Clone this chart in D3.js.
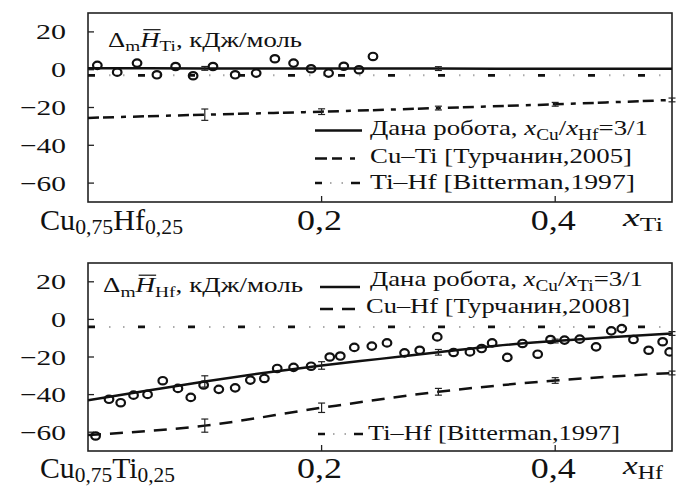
<!DOCTYPE html>
<html>
<head>
<meta charset="utf-8">
<script src="https://cdn.jsdelivr.net/npm/d3@7"></script>
<style>
body { margin: 0; background: #fff; }
text { font-family: "Liberation Serif", Tinos, "Times New Roman", Times, serif; fill: #111; }
</style>
</head>
<body>
<script>
var width = 683, height = 489;

// axis ticks
var xTicks = [0.2, 0.4];
var xTickLabels = ["0,2", "0,4"];
var yTicks = [20, 0, -20, -40, -60];
var yTickLabels = ["20", "0", "\u221220", "\u221240", "\u221260"];

// top panel - Ti
var tiExpX = [0.008, 0.025, 0.042, 0.059, 0.075, 0.090, 0.107, 0.126, 0.144, 0.160, 0.176, 0.191, 0.206, 0.219, 0.232, 0.244];
var tiExpY = [2.3, -1.3, 3.5, -2.7, 1.7, -3.2, 1.7, -2.7, -1.8, 5.8, 3.5, 0.5, -1.8, 1.8, 0, 7];
var tiFitX = [0, 0.1, 0.2, 0.3, 0.4, 0.5];
var tiFitY = [0.8, 0.7, 0.6, 0.6, 0.5, 0.5];
var tiFitErr = [0, 1, 0, 1, 0, 0];
var cuTiX = [0, 0.1, 0.2, 0.3, 0.4, 0.5];
var cuTiY = [-25.5, -23.8, -22.2, -20.3, -18.3, -16];
var cuTiErr = [0, 3, 1.5, 1, 1, 1];
var tiHfTiX = [0, 0.5];
var tiHfTiY = [-3, -3];

// bottom panel - Hf
var hfExpX = [0.0065, 0.018, 0.028, 0.039, 0.051, 0.064, 0.077, 0.088, 0.099, 0.112, 0.126, 0.139, 0.151, 0.162, 0.176, 0.191,
  0.207, 0.216, 0.228, 0.243, 0.256, 0.271, 0.284, 0.299, 0.313, 0.327, 0.337, 0.346, 0.359, 0.372, 0.385, 0.396, 0.408,
  0.421, 0.435, 0.448, 0.457, 0.467, 0.480, 0.492, 0.498];
var hfExpY = [-62, -42.5, -44.3, -40.3, -39.9, -32.6, -36.7, -41.5, -34.9, -37.2, -36.4, -32.3, -31.4, -26.1, -25.5, -24.9,
  -20.0, -19.5, -14.9, -14.2, -12.5, -17.8, -16.4, -9.3, -17.6, -17.3, -15.5, -12.5, -20.2, -12.8, -18.5, -10.7, -11.0,
  -10.5, -14.6, -6.1, -4.9, -10.7, -16.4, -11.9, -17.3];
var hfFitX = [0, 0.05, 0.1, 0.15, 0.2, 0.25, 0.3, 0.35, 0.4, 0.45, 0.5];
var hfFitY = [-43, -38, -33, -28.5, -24.5, -21, -17.5, -14, -11.5, -9.3, -7.5];
var hfFitErr = [0, 0, 3, 0, 2, 0, 1.5, 0, 1, 0, 1];
var cuHfX = [0, 0.1, 0.2, 0.3, 0.4, 0.5];
var cuHfY = [-61.5, -56.5, -47, -38.5, -32.5, -28.5];
var cuHfErr = [0, 3.5, 2.5, 1.8, 1.5, 1];
var tiHfHfX = [0, 0.5];
var tiHfHfY = [-4, -4];

var svg = d3.select("body").append("svg")
    .attr("width", width)
    .attr("height", height);

var x = d3.scaleLinear().domain([0, 0.5]).range([88, 672]);
var yTop = d3.scaleLinear().domain([-70, 30]).range([202, 13]);
var yBot = d3.scaleLinear().domain([-70, 30]).range([451, 263]);

// text with italic / subscript parts
function richText(g, parts, tx, ty, size, len, anchor, subShift) {
    var t = g.append("text").attr("x", tx).attr("y", ty).attr("font-size", size + "px");
    if (anchor) t.attr("text-anchor", anchor);
    var shift = 0;
    parts.forEach(function (p) {
        var s = t.append("tspan").text(p[0]);
        var sub = p[1].indexOf("s") >= 0;
        var ns = sub ? size * (subShift || 0.22) : 0;
        s.attr("dy", ns - shift);
        shift = ns;
        if (sub) s.attr("font-size", (size * 0.72) + "px");
        if (p[1].indexOf("i") >= 0) s.attr("font-style", "italic");
    });
    if (len) t.attr("textLength", len).attr("lengthAdjust", "spacingAndGlyphs");
    return t;
}

function panel(y, id, baseY, labelParts, labelLen, varParts) {
    var g = svg.append("g");
    g.append("clipPath").attr("id", id).append("rect")
        .attr("x", x(0)).attr("y", y.range()[1])
        .attr("width", x(0.5) - x(0)).attr("height", y.range()[0] - y.range()[1]);

    g.append("rect")
        .attr("x", x(0)).attr("y", y.range()[1])
        .attr("width", x(0.5) - x(0)).attr("height", y.range()[0] - y.range()[1])
        .style("fill", "none").style("stroke", "#222").style("stroke-width", 1.6);

    //y ticks
    g.selectAll(".yt").data(yTicks).enter().append("line")
        .attr("x1", x(0)).attr("x2", x(0) + 6)
        .attr("y1", function (d) { return y(d); }).attr("y2", function (d) { return y(d); })
        .style("stroke", "#222").style("stroke-width", 1.3);
    var lens = [30, 15, 46, 46, 46];
    yTicks.forEach(function (d, i) {
        g.append("text").attr("x", 66).attr("y", y(d) + 7.5)
            .attr("text-anchor", "end").attr("font-size", "22px")
            .attr("textLength", lens[i]).attr("lengthAdjust", "spacingAndGlyphs")
            .text(yTickLabels[i]);
    });

    //x ticks
    g.selectAll(".xt").data(xTicks).enter().append("line")
        .attr("x1", function (d) { return x(d); }).attr("x2", function (d) { return x(d); })
        .attr("y1", y.range()[0]).attr("y2", y.range()[0] - 6)
        .style("stroke", "#222").style("stroke-width", 1.3);
    xTicks.forEach(function (d, i) {
        g.append("text").attr("x", x(d) - 2).attr("y", baseY)
            .attr("text-anchor", "middle").attr("font-size", "29px")
            .attr("textLength", 45).attr("lengthAdjust", "spacingAndGlyphs")
            .text(xTickLabels[i]);
    });
    richText(g, labelParts, 40, baseY, 29, labelLen, null, 0.15);
    richText(g, varParts, 623, baseY - 4, 26, 40, null, 0.18);
    return g;
}

function drawLine(g, y, id, xs, ys, dash, color, sw) {
    var line = d3.line()
        .x(function (d) { return x(d[0]); })
        .y(function (d) { return y(d[1]); })
        .curve(d3.curveMonotoneX);
    var p = g.append("path")
        .attr("clip-path", "url(#" + id + ")")
        .attr("d", line(d3.zip(xs, ys)))
        .style("fill", "none").style("stroke", color || "#111")
        .style("stroke-width", sw || 2.5);
    if (dash) p.style("stroke-dasharray", dash);
    return p;
}

function dashDot(g, y, id, xs, ys) {
    drawLine(g, y, id, xs, ys, "7,43", "#111", 2.6);
    drawLine(g, y, id, xs, ys, "1.5,12.5,1.5,34.5", "#aaa", 2).style("stroke-dashoffset", -21);
}

function errBars(g, y, xs, ys, es) {
    xs.forEach(function (d, i) {
        if (!es[i]) return;
        var cx = x(d), y1 = y(ys[i] + es[i]), y2 = y(ys[i] - es[i]);
        g.append("line").attr("x1", cx).attr("x2", cx).attr("y1", y1).attr("y2", y2)
            .style("stroke", "#222").style("stroke-width", 1.2);
        [y1, y2].forEach(function (yy) {
            g.append("line").attr("x1", cx - 3.5).attr("x2", cx + 3.5).attr("y1", yy).attr("y2", yy)
                .style("stroke", "#222").style("stroke-width", 1.2);
        });
    });
}

function dots(g, y, id, xs, ys) {
    g.append("g").attr("clip-path", "url(#" + id + ")")
        .selectAll(".dot").data(d3.zip(xs, ys)).enter().append("ellipse")
        .attr("cx", function (d) { return x(d[0]); })
        .attr("cy", function (d) { return y(d[1]); })
        .attr("rx", 4.3).attr("ry", 3.7)
        .style("fill", "none").style("stroke", "#111").style("stroke-width", 2.2);
}

function overbar(t, idx, size) {
    var e = t.node().getExtentOfChar(idx);
    var by = +t.attr("y") - size * 0.8;
    svg.append("line")
        .attr("x1", e.x + size * 0.15).attr("x2", e.x + e.width + size * 0.05)
        .attr("y1", by).attr("y2", by)
        .style("stroke", "#111").style("stroke-width", 1.2);
}

// legend sample of the dash-dot line: dash, two light dots, dash
function legendDashDot(g, x0, ly) {
    g.append("line").attr("x1", x0).attr("x2", x0 + 45).attr("y1", ly).attr("y2", ly)
        .style("stroke", "#111").style("stroke-width", 2.5).style("stroke-dasharray", "7,29,9");
    g.append("line").attr("x1", x0 + 15).attr("x2", x0 + 30).attr("y1", ly).attr("y2", ly)
        .style("stroke", "#aaa").style("stroke-width", 2).style("stroke-dasharray", "1.5,10,1.5,10");
}

//Top panel
var topG = panel(yTop, "clipTop", 230,
    [["Cu", "n"], ["0,75", "s"], ["Hf", "n"], ["0,25", "s"]], 143, [["x", "i"], ["Ti", "s"]]);
dashDot(topG, yTop, "clipTop", tiHfTiX, tiHfTiY);
drawLine(topG, yTop, "clipTop", cuTiX, cuTiY, "11,4,11,7,5,7");
errBars(topG, yTop, cuTiX, cuTiY, cuTiErr);
drawLine(topG, yTop, "clipTop", tiFitX, tiFitY);
errBars(topG, yTop, tiFitX, tiFitY, tiFitErr);
dots(topG, yTop, "clipTop", tiExpX, tiExpY);

var t1 = richText(topG, [["\u0394", "n"], ["m", "s"], ["H", "i"], ["Ti", "s"], [", кДж/моль", "n"]], 108, 46.5, 21, 194);
overbar(t1, 2, 21);

//Top legend
topG.append("line").attr("x1", 315).attr("x2", 362).attr("y1", 130.5).attr("y2", 130.5)
    .style("stroke", "#111").style("stroke-width", 2.5);
topG.append("line").attr("x1", 315).attr("x2", 362).attr("y1", 158.5).attr("y2", 158.5)
    .style("stroke", "#111").style("stroke-width", 2.5).style("stroke-dasharray", "12,5,10,8,5,7");
legendDashDot(topG, 315, 183);
richText(topG, [["Дана робота, ", "n"], ["x", "i"], ["Cu", "s"], ["/", "n"], ["x", "i"], ["Hf", "s"], ["=3/1", "n"]], 370, 135, 22, 278);
richText(topG, [["Cu–Ti [Турчанин,2005]", "n"]], 370, 162.5, 22, 262);
richText(topG, [["Ti–Hf [Bitterman,1997]", "n"]], 370, 189, 22, 265);

//Bottom panel
var botG = panel(yBot, "clipBot", 478,
    [["Cu", "n"], ["0,75", "s"], ["Ti", "n"], ["0,25", "s"]], 135, [["x", "i"], ["Hf", "s"]]);
dashDot(botG, yBot, "clipBot", tiHfHfX, tiHfHfY);
drawLine(botG, yBot, "clipBot", cuHfX, cuHfY, "13,9");
errBars(botG, yBot, cuHfX, cuHfY, cuHfErr);
drawLine(botG, yBot, "clipBot", hfFitX, hfFitY);
errBars(botG, yBot, hfFitX, hfFitY, hfFitErr);
dots(botG, yBot, "clipBot", hfExpX, hfExpY);

var t2 = richText(botG, [["\u0394", "n"], ["m", "s"], ["H", "i"], ["Hf", "s"], [", кДж/моль", "n"]], 103, 292, 21, 200);
overbar(t2, 2, 21);

//Bottom legend
botG.append("line").attr("x1", 320).attr("x2", 360).attr("y1", 287).attr("y2", 287)
    .style("stroke", "#111").style("stroke-width", 2.5);
botG.append("line").attr("x1", 320).attr("x2", 360).attr("y1", 309).attr("y2", 309)
    .style("stroke", "#111").style("stroke-width", 2.5).style("stroke-dasharray", "13,9");
legendDashDot(botG, 318, 434);
richText(botG, [["Дана робота, ", "n"], ["x", "i"], ["Cu", "s"], ["/", "n"], ["x", "i"], ["Ti", "s"], ["=3/1", "n"]], 370, 286, 22, 273);
richText(botG, [["Cu–Hf [Турчанин,2008]", "n"]], 366, 313, 22, 264);
richText(botG, [["Ti–Hf [Bitterman,1997]", "n"]], 368, 440, 22, 252);
</script>
</body>
</html>
